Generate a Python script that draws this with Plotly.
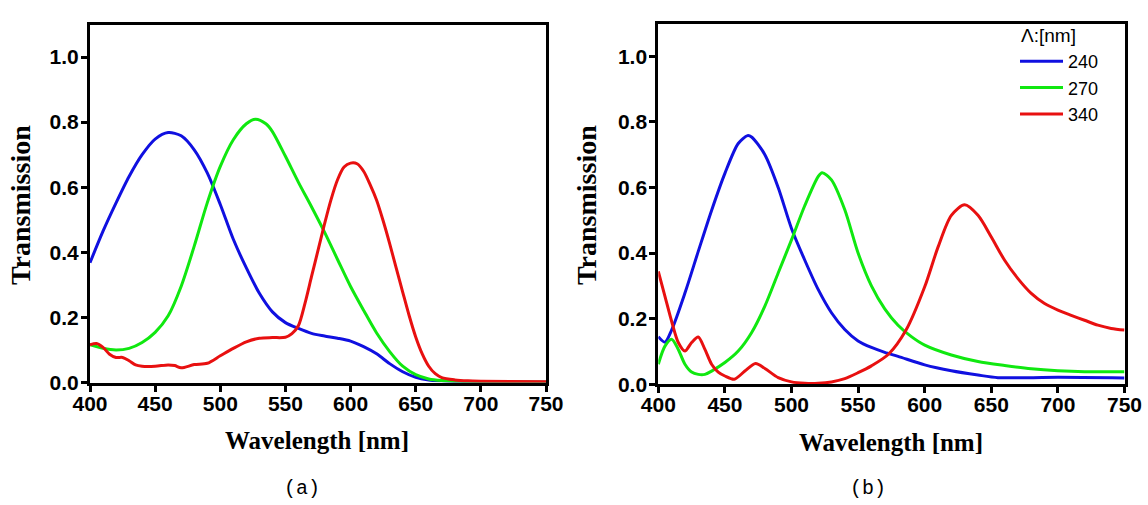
import plotly.graph_objects as go

# ---------------- data ----------------
# Panel (a)
a_blue_x = [400,410,420,430,440,450,460,470,480,490,500,510,520,530,540,550,560,570,580,590,600,610,620,630,640,650,660,670,680,700,750]
a_blue_y = [0.368,0.465,0.552,0.633,0.700,0.748,0.768,0.758,0.715,0.644,0.547,0.440,0.352,0.274,0.217,0.184,0.166,0.151,0.143,0.136,0.127,0.110,0.088,0.058,0.033,0.016,0.008,0.005,0.003,0.002,0.001]

a_green_x = [400,410,420,430,440,450,460,470,480,490,500,510,520,527,535,540,550,560,570,580,590,600,610,620,630,640,650,660,670,680,700,750]
a_green_y = [0.116,0.105,0.100,0.105,0.123,0.154,0.205,0.296,0.419,0.552,0.664,0.746,0.795,0.809,0.795,0.771,0.695,0.615,0.540,0.462,0.378,0.295,0.222,0.152,0.095,0.050,0.024,0.011,0.006,0.004,0.002,0.001]

a_red_x = [400,405,410,415,420,425,430,435,440,450,460,465,470,480,490,500,510,520,530,540,550,
           555,560,565,570,575,580,585,590,595,600,605,610,615,620,625,630,635,640,645,650,
           655,660,665,670,680,690,700,750]
a_red_y = [0.116,0.120,0.108,0.087,0.077,0.077,0.067,0.054,0.050,0.050,0.054,0.052,0.045,0.055,0.059,0.082,0.105,0.125,0.136,0.138,0.139,
           0.150,0.175,0.243,0.325,0.406,0.487,0.562,0.623,0.662,0.674,0.672,0.649,0.608,0.560,0.497,0.427,0.352,0.278,0.205,0.140,
           0.088,0.050,0.027,0.015,0.008,0.005,0.004,0.002]

# Panel (b)
b_blue_x = [400,405,410,420,430,440,450,460,467,470,480,490,500,510,520,530,540,550,560,570,580,600,620,640,655,680,700,750]
b_blue_y = [0.145,0.128,0.165,0.278,0.405,0.530,0.643,0.734,0.758,0.754,0.700,0.600,0.475,0.378,0.289,0.218,0.167,0.132,0.112,0.097,0.085,0.059,0.041,0.028,0.020,0.020,0.021,0.019]

b_green_x = [400,405,410,415,420,425,430,435,440,450,460,470,480,490,500,510,520,523,530,540,550,560,570,580,590,600,620,640,660,680,700,720,750]
b_green_y = [0.061,0.116,0.137,0.106,0.061,0.037,0.030,0.030,0.040,0.066,0.101,0.157,0.238,0.339,0.440,0.545,0.633,0.645,0.623,0.532,0.400,0.300,0.230,0.180,0.145,0.119,0.089,0.069,0.057,0.047,0.041,0.038,0.038]

b_red_x = [400,405,410,415,420,425,430,435,440,445,450,457,465,473,480,490,500,510,520,530,540,550,560,573,586,600,610,620,630,640,650,660,670,680,690,700,710,720,730,740,750]
b_red_y = [0.344,0.268,0.192,0.127,0.101,0.127,0.144,0.106,0.061,0.037,0.025,0.015,0.040,0.063,0.048,0.020,0.007,0.003,0.003,0.007,0.017,0.035,0.056,0.092,0.165,0.297,0.418,0.515,0.547,0.515,0.449,0.378,0.322,0.277,0.246,0.226,0.210,0.195,0.180,0.170,0.165]

series_names = ["240", "270", "340"]
colors = ["#1010e0", "#10e810", "#e81010"]
x_ticks = [400, 450, 500, 550, 600, 650, 700, 750]
y_ticks = [0.0, 0.2, 0.4, 0.6, 0.8, 1.0]
legend_title = "Λ:[nm]"
x_title = "Wavelength [nm]"
y_title = "Transmission"
panel_labels = ["(a)", "(b)"]

# ---------------- figure ----------------
fig = go.Figure()

panels = [
    ("x", "y", [(a_blue_x, a_blue_y), (a_green_x, a_green_y), (a_red_x, a_red_y)], False),
    ("x2", "y2", [(b_blue_x, b_blue_y), (b_green_x, b_green_y), (b_red_x, b_red_y)], True),
]
for xa, ya, data, show in panels:
    for (xs, ys), name, col in zip(data, series_names, colors):
        fig.add_trace(go.Scatter(
            x=xs, y=ys, mode="lines", name=name, showlegend=show,
            line=dict(color=col, width=3, shape="spline", smoothing=0.8),
            xaxis=xa, yaxis=ya,
        ))

SANS = "Liberation Sans, Arial, sans-serif"
tick_font = dict(family=SANS, size=21, color="black", weight="bold")

def xaxis_cfg(domain, anchor):
    return dict(domain=domain, anchor=anchor, range=[400, 750], tickvals=x_ticks,
                ticks="outside", ticklen=6, tickwidth=3, tickcolor="black",
                showline=True, linewidth=3, linecolor="black", mirror=True,
                showgrid=False, zeroline=False, tickfont=tick_font,
                ticklabelstandoff=-6, automargin=False)

def yaxis_cfg(domain, anchor):
    return dict(domain=domain, anchor=anchor, range=[0, 1.1], tickvals=y_ticks,
                tickformat=".1f", ticks="outside", ticklen=6, tickwidth=3, tickcolor="black",
                showline=True, linewidth=3, linecolor="black", mirror=True,
                showgrid=False, zeroline=False, tickfont=tick_font,
                ticklabelstandoff=-2, automargin=False)

W, H = 1148, 505
fig.update_layout(
    width=W, height=H,
    margin=dict(l=0, r=0, t=0, b=0, autoexpand=False),
    paper_bgcolor="white", plot_bgcolor="white",
    xaxis=xaxis_cfg([90 / W, 546 / W], "y"),
    yaxis=yaxis_cfg([1 - 382.5 / H, 1 - 24.5 / H], "x"),
    xaxis2=xaxis_cfg([658.3 / W, 1124.5 / W], "y2"),
    yaxis2=yaxis_cfg([1 - 384.2 / H, 1 - 23.5 / H], "x2"),
    legend=dict(
        font=dict(family=SANS, size=18, color="black"),
        x=1015 / W, y=1 - 43 / H, xanchor="left", yanchor="top",
        bgcolor="rgba(0,0,0,0)", borderwidth=0, tracegroupgap=0,
        itemwidth=43,
    ),
    showlegend=True,
)

title_font_x = dict(family="Liberation Serif, Times New Roman, serif", size=25, color="black", weight="bold")
title_font_y = dict(family="Liberation Serif, Times New Roman, serif", size=28, color="black", weight="bold")
label_font = dict(family="Liberation Mono, DejaVu Sans Mono, monospace", size=20, color="black")

annotations = [
    dict(text=legend_title, x=1019 / W, y=1 - 35 / H, xref="paper", yref="paper",
         showarrow=False, font=dict(family=SANS, size=19, color="black"),
         xanchor="left", yanchor="middle"),
    dict(text=x_title, x=317 / W, y=1 - 440 / H, xref="paper", yref="paper",
         showarrow=False, font=title_font_x, xanchor="center", yanchor="middle"),
    dict(text=x_title, x=891 / W, y=1 - 442 / H, xref="paper", yref="paper",
         showarrow=False, font=title_font_x, xanchor="center", yanchor="middle"),
    dict(text=y_title, x=20 / W, y=1 - 205 / H, xref="paper", yref="paper", textangle=-90,
         showarrow=False, font=title_font_y, xanchor="center", yanchor="middle"),
    dict(text=y_title, x=586 / W, y=1 - 205 / H, xref="paper", yref="paper", textangle=-90,
         showarrow=False, font=title_font_y, xanchor="center", yanchor="middle"),
    dict(text=panel_labels[0], x=302 / W, y=1 - 488 / H, xref="paper", yref="paper",
         showarrow=False, font=label_font, xanchor="center", yanchor="middle"),
    dict(text=panel_labels[1], x=868 / W, y=1 - 488 / H, xref="paper", yref="paper",
         showarrow=False, font=label_font, xanchor="center", yanchor="middle"),
]
fig.update_layout(annotations=annotations)

# remove the default page margin so the figure sits at the window's top-left corner
fig.write_html("out.html",
               config={"displayModeBar": False},
               post_script="document.body.style.margin='0';document.body.style.overflow='hidden';")
